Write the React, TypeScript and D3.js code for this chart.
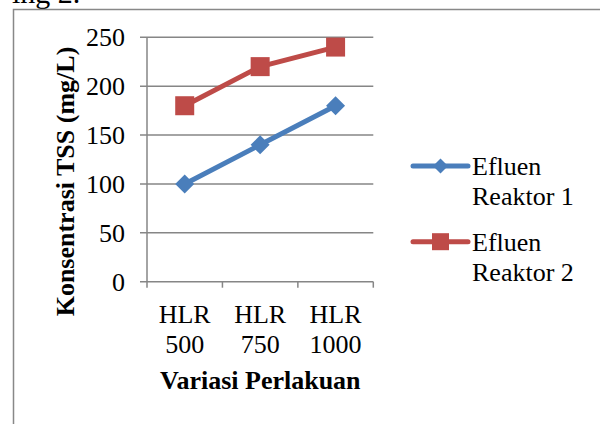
import * as d3 from 'd3'
import React, { useEffect, useRef } from 'react'

const categories = ['HLR 500', 'HLR 750', 'HLR 1000']
const reaktor1 = [100, 140, 180]
const reaktor2 = [180, 220, 240]
const yTicks = [0, 50, 100, 150, 200, 250]
const seriesNames = ['Efluen Reaktor 1', 'Efluen Reaktor 2']

const width = 600
const height = 424
const blue = '#4a7ebb'
const red = '#be4b48'
const grid = '#868686'
const font = '"Liberation Serif", "Times New Roman", serif'

const App: React.FC = () => {
  const ref = useRef<SVGSVGElement>(null)

  useEffect(() => {
    const svg = d3.select(ref.current)
    svg.selectAll('*').remove()

    const x = d3.scaleBand().domain(categories).range([147, 373.3])
    const y = d3.scaleLinear().domain([0, 250]).range([281.7, 37.3])
    const cx = (c: string) => (x(c) || 0) + x.bandwidth() / 2

    // surrounding text cut off at top + chart border
    svg
      .append('text')
      .attr('x', 12)
      .attr('y', 3)
      .attr('font-family', font)
      .attr('font-size', 30)
      .text('ing 2.')
    svg
      .append('path')
      .attr('d', `M13.5,${height + 2}V9.5H${width + 2}`)
      .attr('fill', 'none')
      .attr('stroke', '#888')
      .attr('stroke-width', 1.5)

    // gridlines + y ticks
    svg
      .append('g')
      .selectAll('line')
      .data(yTicks)
      .enter()
      .append('line')
      .attr('x1', 140)
      .attr('x2', 373.3)
      .attr('y1', (d) => y(d))
      .attr('y2', (d) => y(d))
      .attr('stroke', grid)
      .attr('stroke-width', 1.5)

    svg
      .append('g')
      .selectAll('text')
      .data(yTicks)
      .enter()
      .append('text')
      .attr('x', 125)
      .attr('y', (d) => y(d) + 9)
      .attr('text-anchor', 'end')
      .attr('font-family', font)
      .attr('font-size', 26)
      .text((d) => d)

    // axes
    svg
      .append('line')
      .attr('x1', 147)
      .attr('x2', 147)
      .attr('y1', y(250))
      .attr('y2', y(0))
      .attr('stroke', grid)
      .attr('stroke-width', 1.5)

    const edges = categories.map((c) => x(c) || 0).concat([x.range()[1]])
    svg
      .append('g')
      .selectAll('line')
      .data(edges)
      .enter()
      .append('line')
      .attr('x1', (d) => d)
      .attr('x2', (d) => d)
      .attr('y1', y(0))
      .attr('y2', y(0) + 6)
      .attr('stroke', grid)
      .attr('stroke-width', 1.5)

    const xl = svg
      .append('g')
      .selectAll('text')
      .data(categories)
      .enter()
      .append('text')
      .attr('text-anchor', 'middle')
      .attr('font-family', font)
      .attr('font-size', 26)
    xl.append('tspan')
      .attr('x', (d) => cx(d))
      .attr('y', 322.7)
      .text((d) => d.split(' ')[0])
    xl.append('tspan')
      .attr('x', (d) => cx(d))
      .attr('y', 353.3)
      .text((d) => d.split(' ')[1])

    // axis titles
    svg
      .append('text')
      .attr('x', 260.3)
      .attr('y', 389)
      .attr('text-anchor', 'middle')
      .attr('font-family', font)
      .attr('font-size', 26)
      .attr('font-weight', 'bold')
      .text('Variasi Perlakuan')
    svg
      .append('text')
      .attr('transform', 'translate(74,181.5) rotate(-90)')
      .attr('text-anchor', 'middle')
      .attr('font-family', font)
      .attr('font-size', 26)
      .attr('font-weight', 'bold')
      .text('Konsentrasi TSS (mg/L)')

    // series
    const line = d3
      .line<number>()
      .x((d, i) => cx(categories[i]))
      .y((d) => y(d))

    const series = [
      { values: reaktor1, color: blue, shape: 'diamond' },
      { values: reaktor2, color: red, shape: 'square' },
    ]

    const marker = (g: any, shape: string, color: string, px: number, py: number, s: number) => {
      if (shape === 'diamond') {
        g.append('path')
          .attr('d', `M${px},${py - s}L${px + s},${py}L${px},${py + s}L${px - s},${py}Z`)
          .attr('fill', color)
      } else {
        g.append('rect')
          .attr('x', px - s)
          .attr('y', py - s)
          .attr('width', s * 2)
          .attr('height', s * 2)
          .attr('fill', color)
      }
    }

    series.forEach((s) => {
      const g = svg.append('g')
      g.append('path')
        .attr('d', line(s.values))
        .attr('fill', 'none')
        .attr('stroke', s.color)
        .attr('stroke-width', 5)
        .attr('stroke-linejoin', 'round')
      s.values.forEach((v, i) => {
        marker(g, s.shape, s.color, cx(categories[i]), y(v), s.shape === 'diamond' ? 9.5 : 9.5)
      })
    })

    // legend
    const legY = [166, 241.7]
    series.forEach((s, i) => {
      const g = svg.append('g')
      g.append('line')
        .attr('x1', 413)
        .attr('x2', 468)
        .attr('y1', legY[i])
        .attr('y2', legY[i])
        .attr('stroke', s.color)
        .attr('stroke-width', 5)
        .attr('stroke-linecap', 'round')
      marker(g, s.shape, s.color, 440.5, legY[i], s.shape === 'diamond' ? 7.5 : 8.5)
      const words = seriesNames[i].split(' ')
      const t = g
        .append('text')
        .attr('font-family', font)
        .attr('font-size', 26)
      t.append('tspan').attr('x', 472).attr('y', legY[i] + 9).text(words[0])
      t.append('tspan').attr('x', 472).attr('y', legY[i] + 39).text(words.slice(1).join(' '))
    })
  }, [])

  return (
    <svg
      ref={ref}
      width={width}
      height={height}
      style={{ position: 'absolute', left: 0, top: 0, background: '#fff' }}
    />
  )
}

export default App
